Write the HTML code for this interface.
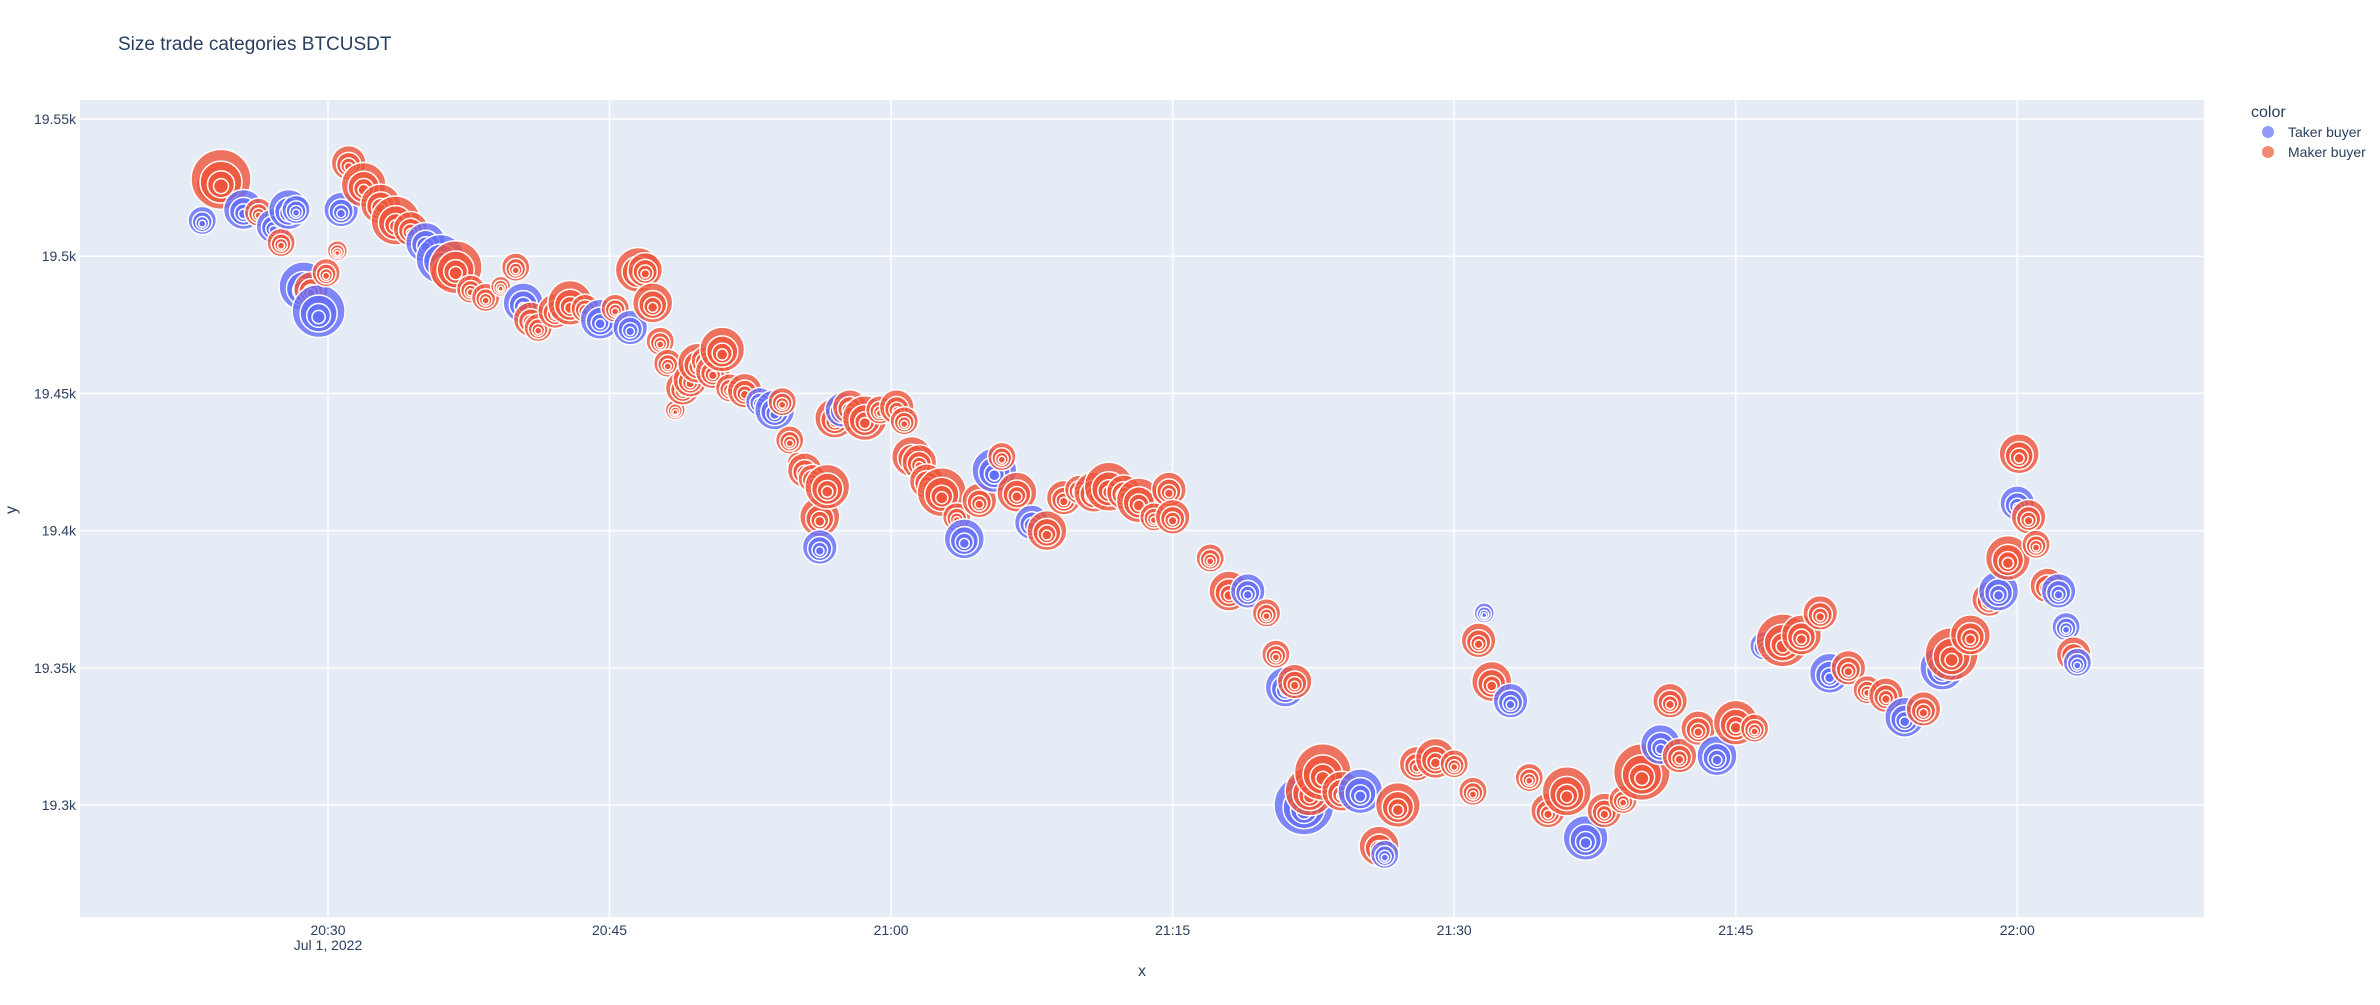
<!DOCTYPE html>
<html><head><meta charset="utf-8">
<style>
body{margin:0;background:#fff;font-family:"Liberation Sans",sans-serif;}
svg text{font-family:"Liberation Sans",sans-serif;fill:#2a3f5f;}
</style></head>
<body>
<svg id="chart" width="2380" height="1000">
<text x="118" y="50" font-size="19">Size trade categories BTCUSDT</text>
<rect x="80" y="100" width="2124" height="817" fill="#e5ecf6"/>
<g id="grid"></g>
<g id="marks"></g>
<g id="axes"></g>
<text x="1142" y="976" font-size="16" text-anchor="middle">x</text>
<text x="16" y="510" font-size="16" text-anchor="middle" transform="rotate(-90 16 510)">y</text>
<g>
<text x="2251" y="117" font-size="16">color</text>
<g><circle cx="2268" cy="132" r="6" fill="#636efa" opacity="0.7"/><text x="2288" y="137" font-size="14">Taker buyer</text></g>
<g><circle cx="2268" cy="152" r="6" fill="#EF553B" opacity="0.7"/><text x="2288" y="157" font-size="14">Maker buyer</text></g>
</g>
</svg>
<script>
// minutes after 20:00
const minutes=[23.3,23.9,24.3,25.5,26.3,27.1,27.5,27.9,28.3,28.7,29.1,29.5,29.9,30.5,30.7,31.1,31.9,32.8,33.6,34.4,35.2,36.0,36.4,36.8,37.6,38.4,39.2,40.0,40.4,40.8,41.2,42.1,42.9,43.7,44.5,45.3,46.1,46.5,46.9,47.3,47.7,48.1,48.5,48.9,49.3,49.7,50.1,50.5,51.0,51.4,52.2,53.0,53.8,54.2,54.6,55.0,55.4,55.8,56.2,56.2,56.6,57.0,57.4,57.8,58.6,59.4,60.3,60.7,61.1,61.5,61.9,62.7,63.5,63.9,64.7,65.5,65.9,66.7,67.5,68.3,69.2,70.0,70.8,71.6,72.4,73.2,74.0,74.8,
75,77,78,79,80,80.5,81,81.5,82,82.3,83,84,85,86,86.3,87,88,89,90,91,91.3,91.6,92,93,94,95,96,97,98,99,100,101,101.5,102,103,104,105,106,106.5,107.5,108.5,109.5,110,111,112,113,114,115,116,116.5,117.5,118.5,119,119.5,120,120.1,120.6,121,121.6,122.2,122.6,123,123.2];
const prices=[19513,19526,19528,19517,19516,19511,19505,19517,19517,19489,19488,19480,19494,19502,19517,19534,19526,19519,19513,19510,19505,19499,19494,19496,19488,19485,19489,19496,19483,19477,19474,19480,19483,19481,19477,19481,19474,19495,19495,19483,19469,19461,19444,19452,19455,19461,19462,19458,19466,19452,19451,19447,19444,19447,19433,19425,19422,19419,19405,19394,19416,19441,19444,19445,19441,19444,19445,19440,19427,19425,19418,19414,19405,19397,19411,19422,19427,19414,19403,19400,19412,19415,19414,19416,19414,19411,19405,19415,
19405,19390,19378,19378,19370,19355,19343,19345,19300,19305,19312,19305,19305,19285,19282,19300,19315,19317,19315,19305,19360,19370,19345,19338,19310,19298,19305,19288,19298,19302,19312,19322,19338,19318,19328,19318,19330,19328,19358,19360,19362,19370,19348,19350,19342,19340,19332,19335,19350,19355,19362,19375,19378,19390,19410,19428,19405,19395,19380,19378,19365,19355,19352];
const sizes=[2,3,9,4,2,3,2,4,2,6,3,7,2,1,3,3,5,4,6,3,4,6,3,7,2,2,1,2,4,3,2,3,5,2,4,2,3,5,3,4,2,2,1,3,3,4,2,3,5,2,3,2,4,2,2,1,3,2,4,3,5,4,3,3,5,2,3,2,4,3,3,6,2,4,3,5,2,4,3,4,3,2,4,6,3,5,2,3,
3,2,4,3,2,2,4,3,9,6,8,4,5,4,2,5,3,4,2,2,3,1,4,3,2,3,6,5,3,2,8,4,3,3,3,4,5,2,2,7,4,3,4,3,2,3,4,3,5,7,4,3,4,5,3,4,3,2,3,3,2,3,2];
const sides=["T","M","M","T","M","T","M","T","T","T","M","T","M","M","T","M","M","M","M","M","T","T","M","M","M","M","M","M","T","M","M","M","M","M","T","M","T","M","M","M","M","M","M","M","M","M","M","M","M","M","M","T","T","M","M","M","M","M","M","T","M","M","T","M","M","M","M","M","M","M","M","M","M","T","M","T","M","M","T","M","M","M","M","M","M","M","M","M",
"M","M","M","T","M","M","T","M","T","M","M","M","T","M","T","M","M","M","M","M","M","T","M","T","M","M","M","T","M","M","M","T","M","M","M","T","M","M","T","M","M","M","T","M","M","M","T","M","T","M","M","M","T","M","T","M","M","M","M","T","T","M","T"];
const xTicks=[30,45,60,75,90,105,120];
const xTickLabels=["20:30","20:45","21:00","21:15","21:30","21:45","22:00"];
const yTicks=[19300,19350,19400,19450,19500,19550];
const yTickLabels=["19.3k","19.35k","19.4k","19.45k","19.5k","19.55k"];

const NS="http://www.w3.org/2000/svg";
const xs=m=>328+(m-30)*18.77;
const ys=p=>119+(19550-p)*2.744;
function mk(tag,attrs,parent){const e=document.createElementNS(NS,tag);for(const k in attrs)e.setAttribute(k,attrs[k]);parent.appendChild(e);return e;}
const grid=document.getElementById('grid'),axes=document.getElementById('axes'),marks=document.getElementById('marks');
xTicks.forEach((t,i)=>{
  const l=mk('line',{x1:xs(t),x2:xs(t),y1:100,y2:917,stroke:'#fff','stroke-width':1.5},grid);
  
  
  const tx=mk('text',{x:xs(t),y:935,'font-size':14,'text-anchor':'middle'},axes);
  tx.textContent=xTickLabels[i];
  
  
});
const d=mk('text',{x:xs(30),y:950,'font-size':14,'text-anchor':'middle'},axes);
d.textContent="Jul 1, 2022";


yTicks.forEach((t,i)=>{
  const l=mk('line',{x1:80,x2:2204,y1:ys(t),y2:ys(t),stroke:'#fff','stroke-width':1.5},grid);
  
  
  const tx=mk('text',{x:76,y:ys(t)+5,'font-size':14,'text-anchor':'end'},axes);
  tx.textContent=yTickLabels[i];
  
  
});
minutes.forEach((m,i)=>{
  const r=Math.sqrt(sizes[i])*10;
  const col=sides[i]==="T"?"#636efa":"#EF553B";
  const g=mk('g',{},marks);
  
  
  [1,0.7,0.45,0.25].forEach(f=>{
    mk('circle',{cx:xs(m),cy:ys(prices[i])+(1-f)*r*0.3,r:r*f,fill:col,'fill-opacity':0.8,stroke:'#fff','stroke-width':1.5},g);
  });
});
</script>
</body></html>
